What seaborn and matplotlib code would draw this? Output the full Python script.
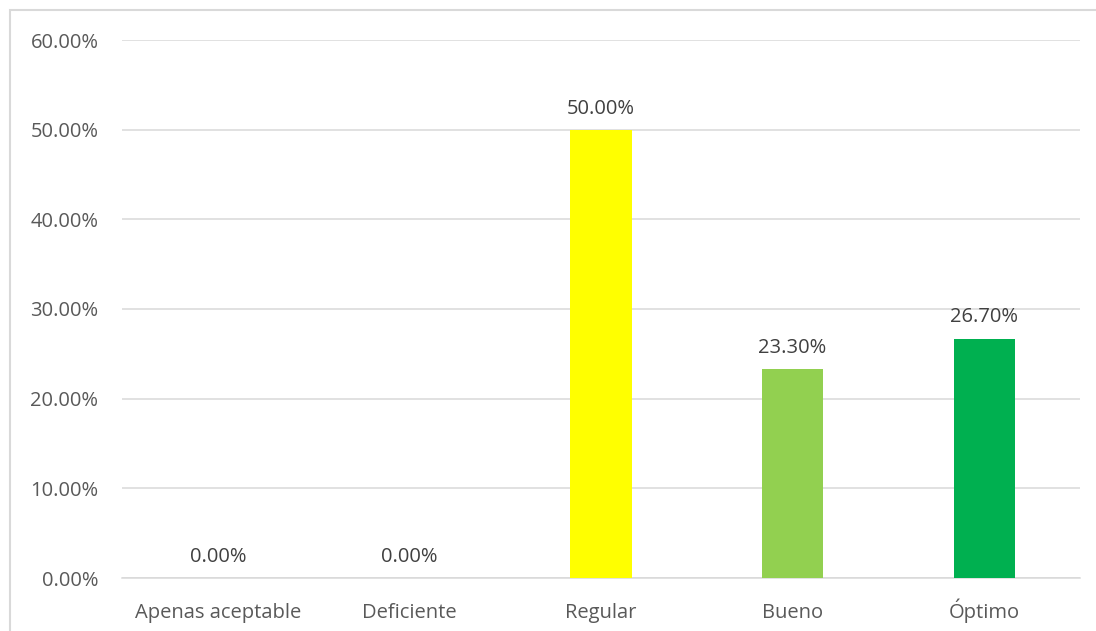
import matplotlib
matplotlib.use("Agg")
import matplotlib.pyplot as plt
import seaborn as sns
import pandas as pd
from matplotlib.patches import Rectangle

categories = ["Apenas aceptable", "Deficiente", "Regular", "Bueno", "Óptimo"]
values = [0.0, 0.0, 50.0, 23.3, 26.7]
colors = ["#4472C4", "#ED7D31", "#FFFF00", "#92D050", "#00B050"]
yticks = [0, 10, 20, 30, 40, 50, 60]

sns.set_theme(style="white")
plt.rcParams["font.family"] = ["Open Sans", "DejaVu Sans"]

W, H = 1096, 631
fig = plt.figure(figsize=(W / 100, H / 100), dpi=100)
ax = fig.add_axes([122 / W, 1 - 578 / H, (1080 - 122) / W, (578 - 40) / H])

df = pd.DataFrame({"cat": categories, "val": values})
sns.barplot(data=df, x="cat", y="val", hue="cat", palette=colors,
            order=categories, hue_order=categories, width=0.32,
            saturation=1, linewidth=0, legend=False, ax=ax, zorder=3)

ax.set_ylim(0, 60)
ax.set_yticks(yticks)
ax.set_yticklabels([f"{t:.2f}%" for t in yticks])
ax.set_xlim(-0.5, len(categories) - 0.5)
ax.set_xlabel("")
ax.set_ylabel("")
ax.grid(axis="y", color="#D9D9D9", linewidth=1.1, zorder=0)
ax.set_axisbelow(True)
for s in ["top", "right", "left"]:
    ax.spines[s].set_visible(False)
ax.spines["bottom"].set_color("#D9D9D9")
ax.spines["bottom"].set_linewidth(1.1)
ax.tick_params(axis="both", length=0, labelsize=14.5, colors="#595959")
ax.tick_params(axis="y", pad=17)
ax.tick_params(axis="x", pad=28.5)
for lbl in ax.get_xticklabels():
    lbl.set_verticalalignment("baseline")

for i, v in enumerate(values):
    ax.annotate(f"{v:.2f}%", (i, v), xytext=(0, 8), textcoords="offset points",
                ha="center", va="bottom", fontsize=14.5, color="#404040")

fig.patches.append(Rectangle((10 / W, -0.1), 1.2, 1 - 10 / H + 0.1,
                             transform=fig.transFigure, fill=False,
                             edgecolor="#D9D9D9", linewidth=1.5))

fig.savefig("out.png", dpi=100, facecolor="white")
